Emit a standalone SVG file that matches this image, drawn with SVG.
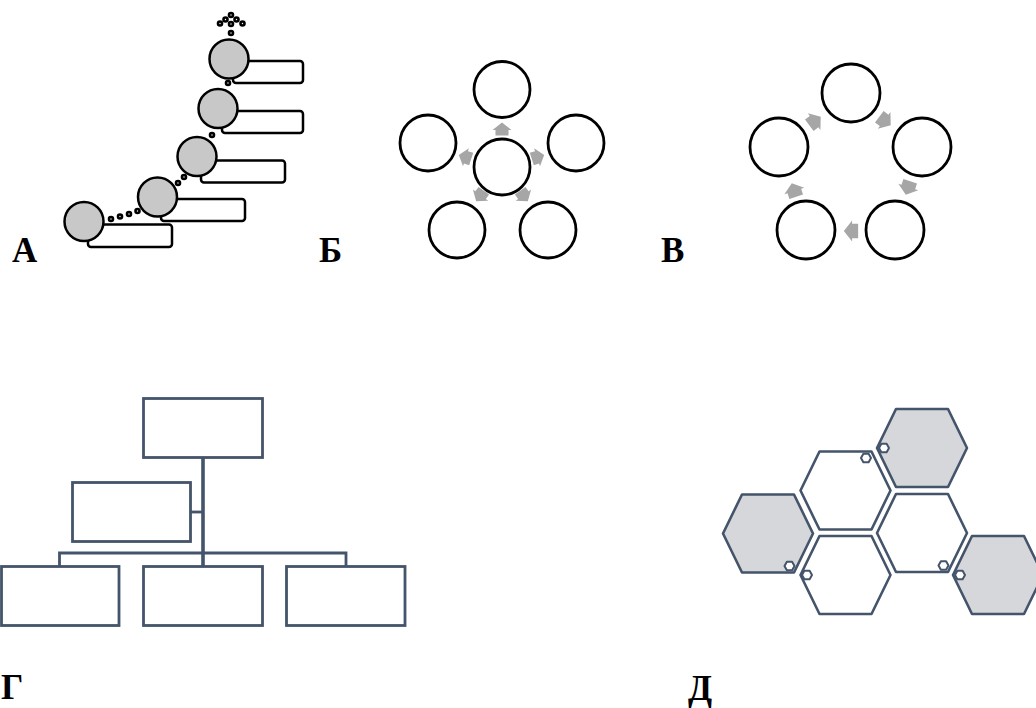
<svg xmlns="http://www.w3.org/2000/svg" xmlns:xlink="http://www.w3.org/1999/xlink" width="1036" height="708" viewBox="0 0 1036 708">
<style>
.lbl{font-family:"Liberation Serif","Times New Roman",serif;font-weight:bold;font-size:35px;fill:#000}
.sc{fill:#c8c8c8;stroke:#000;stroke-width:2.5}
.sr{fill:#fff;stroke:#000;stroke-width:2.5}
.dot{fill:#fff;stroke:#000;stroke-width:2.6}
.oc{fill:#fff;stroke:#000;stroke-width:2.8}
.arr{fill:#a6a6a6}
.box{fill:#fff;stroke:#44546a;stroke-width:2.8}
.ln{fill:none;stroke:#44546a;stroke-width:2.8}
.hw{fill:#fff;stroke:#44546a;stroke-width:2.6;stroke-linejoin:round}
.hg{fill:#d6d7db;stroke:#44546a;stroke-width:2.6;stroke-linejoin:round}
.hm{fill:#fff;stroke:#44546a;stroke-width:2;stroke-linejoin:round}
</style>
<defs>
<path id="ar" d="M0,-6.5 L9.5,1 L6.5,1 L6.5,6.5 L-6.5,6.5 L-6.5,1 L-9.5,1 Z"/>
<path id="hex" d="M-45,0 L-26,-39 L26,-39 L45,0 L26,39 L-26,39 Z"/>
<path id="mhex" d="M-5,0 L-2.6,-4.3 L2.6,-4.3 L5,0 L2.6,4.3 L-2.6,4.3 Z"/>
</defs>
<rect width="1036" height="708" fill="#fff"/>

<!-- Panel A -->
<g id="A-connectors">
<circle class="dot" cx="111" cy="219" r="2"/>
<circle class="dot" cx="120" cy="216.5" r="2"/>
<circle class="dot" cx="129" cy="214" r="2"/>
<circle class="dot" cx="137.5" cy="211" r="2"/>
<circle class="dot" cx="178" cy="183" r="2"/>
<circle class="dot" cx="184" cy="177" r="2"/>
<circle class="dot" cx="212" cy="135" r="2"/>
<circle class="dot" cx="228" cy="83" r="2"/>
<circle class="dot" cx="231" cy="33" r="2"/>
<circle class="dot" cx="220" cy="23.5" r="2"/>
<circle class="dot" cx="225.5" cy="19.5" r="2"/>
<circle class="dot" cx="231" cy="15" r="2"/>
<circle class="dot" cx="231" cy="24" r="2"/>
<circle class="dot" cx="236.5" cy="19.5" r="2"/>
<circle class="dot" cx="242.5" cy="23.5" r="2"/>
</g>
<g id="A-step1"><rect class="sr" x="88" y="224.5" width="84" height="22.5" rx="3"/><circle class="sc" cx="84" cy="221.5" r="19.5"/></g>
<g id="A-step2"><rect class="sr" x="161" y="199" width="84" height="22" rx="3"/><circle class="sc" cx="157.5" cy="197" r="19.5"/></g>
<g id="A-step3"><rect class="sr" x="201" y="160.5" width="84" height="22" rx="3"/><circle class="sc" cx="197" cy="156.5" r="19.5"/></g>
<g id="A-step4"><rect class="sr" x="222" y="111" width="81" height="22" rx="3"/><circle class="sc" cx="218" cy="108.5" r="19.5"/></g>
<g id="A-step5"><rect class="sr" x="233" y="61" width="70" height="22" rx="3"/><circle class="sc" cx="229" cy="59" r="19.5"/></g>
<text class="lbl" x="12" y="262">А</text>

<!-- Panel B -->
<g id="B-connectors">
<use xlink:href="#ar" class="arr" transform="translate(502,129)"/>
<use xlink:href="#ar" class="arr" transform="translate(465,157) rotate(-72)"/>
<use xlink:href="#ar" class="arr" transform="translate(538,157) rotate(72)"/>
<use xlink:href="#ar" class="arr" transform="translate(480,196) rotate(-144)"/>
<use xlink:href="#ar" class="arr" transform="translate(524,196) rotate(144)"/>
</g>
<g id="B-center"><circle class="oc" cx="502" cy="167" r="28"/></g>
<g id="B-top"><circle class="oc" cx="502" cy="89.5" r="28"/></g>
<g id="B-left"><circle class="oc" cx="428" cy="143" r="28"/></g>
<g id="B-right"><circle class="oc" cx="576" cy="143" r="28"/></g>
<g id="B-bl"><circle class="oc" cx="457" cy="230" r="28"/></g>
<g id="B-br"><circle class="oc" cx="548" cy="230" r="28"/></g>
<text class="lbl" x="319" y="262">Б</text>

<!-- Panel V -->
<g id="V-connectors">
<use xlink:href="#ar" class="arr" transform="translate(885,121) rotate(127) scale(1.1)"/>
<use xlink:href="#ar" class="arr" transform="translate(908,188) rotate(198) scale(1.1)"/>
<use xlink:href="#ar" class="arr" transform="translate(851,231) rotate(270) scale(1.1)"/>
<use xlink:href="#ar" class="arr" transform="translate(794,190) rotate(342) scale(1.1)"/>
<use xlink:href="#ar" class="arr" transform="translate(815,121) rotate(53) scale(1.1)"/>
</g>
<g id="V-top"><circle class="oc" cx="851" cy="93" r="29"/></g>
<g id="V-right"><circle class="oc" cx="922" cy="147" r="29"/></g>
<g id="V-br"><circle class="oc" cx="895" cy="230" r="29"/></g>
<g id="V-bl"><circle class="oc" cx="806" cy="230" r="29"/></g>
<g id="V-left"><circle class="oc" cx="779" cy="147" r="29"/></g>
<text class="lbl" x="661" y="262">В</text>

<!-- Panel G -->
<g id="G-connectors">
<line class="ln" x1="203" y1="458" x2="203" y2="566" style="stroke-width:3.6"/>
<line class="ln" x1="191" y1="512" x2="203" y2="512"/>
<polyline class="ln" points="59.5,566 59.5,553 346,553 346,566"/>
</g>
<g id="G-top"><rect class="box" x="143.5" y="398.5" width="119" height="59"/></g>
<g id="G-assist"><rect class="box" x="72.5" y="482.5" width="118" height="59"/></g>
<g id="G-b1"><rect class="box" x="1.5" y="566.5" width="117.5" height="59"/></g>
<g id="G-b2"><rect class="box" x="143.5" y="566.5" width="119" height="59"/></g>
<g id="G-b3"><rect class="box" x="286.5" y="566.5" width="118.5" height="59"/></g>
<text class="lbl" x="1" y="699">Г</text>

<!-- Panel D -->
<g id="D-hex-topright"><use xlink:href="#hex" class="hg" transform="translate(922,448)"/></g>
<g id="D-hex-uppermid"><use xlink:href="#hex" class="hw" transform="translate(845.5,490.5)"/></g>
<g id="D-hex-left"><use xlink:href="#hex" class="hg" transform="translate(768,533.5)"/></g>
<g id="D-hex-lowermid"><use xlink:href="#hex" class="hw" transform="translate(845.5,575)"/></g>
<g id="D-hex-rightmid"><use xlink:href="#hex" class="hw" transform="translate(922,533)"/></g>
<g id="D-hex-right"><use xlink:href="#hex" class="hg" transform="translate(998,575)"/></g>
<g id="D-markers">
<use xlink:href="#mhex" class="hm" transform="translate(866,458)"/>
<use xlink:href="#mhex" class="hm" transform="translate(884,448)"/>
<use xlink:href="#mhex" class="hm" transform="translate(789.5,566)"/>
<use xlink:href="#mhex" class="hm" transform="translate(807,575)"/>
<use xlink:href="#mhex" class="hm" transform="translate(943.5,565.5)"/>
<use xlink:href="#mhex" class="hm" transform="translate(960,575)"/>
</g>
<text class="lbl" x="688" y="700">Д</text>
</svg>
